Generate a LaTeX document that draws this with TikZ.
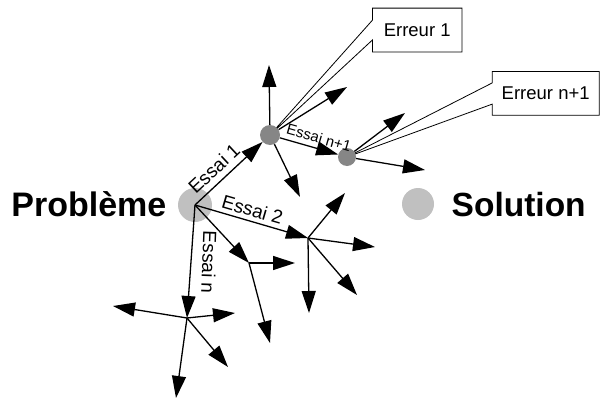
\documentclass[tikz,border=0pt]{standalone}
\usepackage{fontspec}
\setmainfont{Liberation Sans}
\usetikzlibrary{arrows.meta,calc}
\definecolor{lightdot}{HTML}{C0C0C0}
\definecolor{darkdot}{HTML}{868686}
\begin{document}
\begin{tikzpicture}[x=1pt,y=-1pt,
  arr/.style={line width=1.3pt,-{Triangle[length=22pt,width=14pt]}},
  big/.style={font=\fontsize{34}{38}\selectfont\bfseries, inner sep=0pt},
  lab/.style={font=\fontsize{19}{21}\selectfont, inner sep=2pt},
  smalllab/.style={font=\fontsize{15}{17}\selectfont, inner sep=1.5pt},
  bigdot/.style={circle, fill=lightdot, minimum size=34pt, inner sep=0pt},
  smalldot/.style={circle, fill=darkdot, minimum size=#1, inner sep=0pt},
  errbox/.style={font=\fontsize{18.5}{20}\selectfont, inner sep=0pt},
  callout/.style={line width=0.8pt, draw=black, fill=white}
]
\useasboundingbox (0,0) rectangle (600,399);

% positions
\coordinate (n1c) at (270,135);
\coordinate (n2c) at (347,157);

% callout boxes
\node[errbox, minimum width=89pt, minimum height=43.4pt] (E1) at (417.2,30) {};
\node[errbox, minimum width=106.7pt, minimum height=43.3pt] (E2) at (545.7,93.3) {};
\draw[callout] ($(E1.north west)+(0,12)$) -- (n1c) -- ($(E1.south west)+(0,-12)$)
  -- (E1.south west) -- (E1.south east) -- (E1.north east) -- (E1.north west) -- cycle;
\draw[callout] ($(E2.north west)+(0,11.5)$) -- (n2c) -- ($(E2.south west)+(0,-11)$)
  -- (E2.south west) -- (E2.south east) -- (E2.north east) -- (E2.north west) -- cycle;
\node[errbox] (E1t) at (E1.center) {Erreur 1};
\node[errbox] (E2t) at (E2.center) {Erreur n+1};

% main nodes
\node[bigdot] (P) at (195,205) {};
\node[bigdot, minimum size=32pt] (S) at (418,204) {};
\node[big, anchor=base east] (Pt) at (166.5,216) {Problème};
\node[big, font=\fontsize{33.5}{38}\selectfont\bfseries, anchor=base west] (St) at (451.5,216) {Solution};
\node[smalldot=20pt] (N1) at (n1c) {};
\node[smalldot=18pt] (N2) at (n2c) {};

% branch points
\coordinate (B2) at (308,238);
\coordinate (B3) at (249,263);
\coordinate (B4) at (187,318);

% tips
\coordinate (a1) at (269,65);
\coordinate (a2) at (347,87);
\coordinate (a3) at (300,197);
\coordinate (b1) at (405,113);
\coordinate (b2) at (425,170);
\coordinate (c1) at (345,193);
\coordinate (c2) at (375,247);
\coordinate (c3) at (357,295);
\coordinate (c4) at (309,313);
\coordinate (d1) at (295,263);
\coordinate (d2) at (270,343);
\coordinate (e1) at (113,306);
\coordinate (e2) at (235,313);
\coordinate (e3) at (228,367);
\coordinate (e4) at (176,398);

% main trials
\draw[arr] (P.center) -- node[lab, sloped, above, pos=0.42, yshift=4pt] (L1) {Essai 1} (N1);
\draw[arr] (P.center) -- node[lab, sloped, above, pos=0.48, yshift=2pt] (L2) {Essai 2} (B2);
\draw[arr] (P.center) -- (B3);
\draw[arr] (P.center) -- (B4);
\node[lab, rotate=-92, anchor=south] (Ln) at (200,262) {Essai n};
\draw[arr] (N1) -- node[smalllab, sloped, above, pos=0.62, yshift=3pt] (L3) {Essai n+1} (N2);

% fans
\draw[arr] (N1) -- (a1);
\draw[arr] (N1) -- (a2);
\draw[arr] (N1) -- (a3);
\draw[arr] (N2) -- (b1);
\draw[arr] (N2) -- (b2);
\draw[arr] (B2) -- (c1);
\draw[arr] (B2) -- (c2);
\draw[arr] (B2) -- (c3);
\draw[arr] (B2) -- (c4);
\draw[arr] (B3) -- (d1);
\draw[arr] (B3) -- (d2);
\draw[arr] (B4) -- (e1);
\draw[arr] (B4) -- (e2);
\draw[arr] (B4) -- (e3);
\draw[arr] (B4) -- (e4);
\end{tikzpicture}
\end{document}
